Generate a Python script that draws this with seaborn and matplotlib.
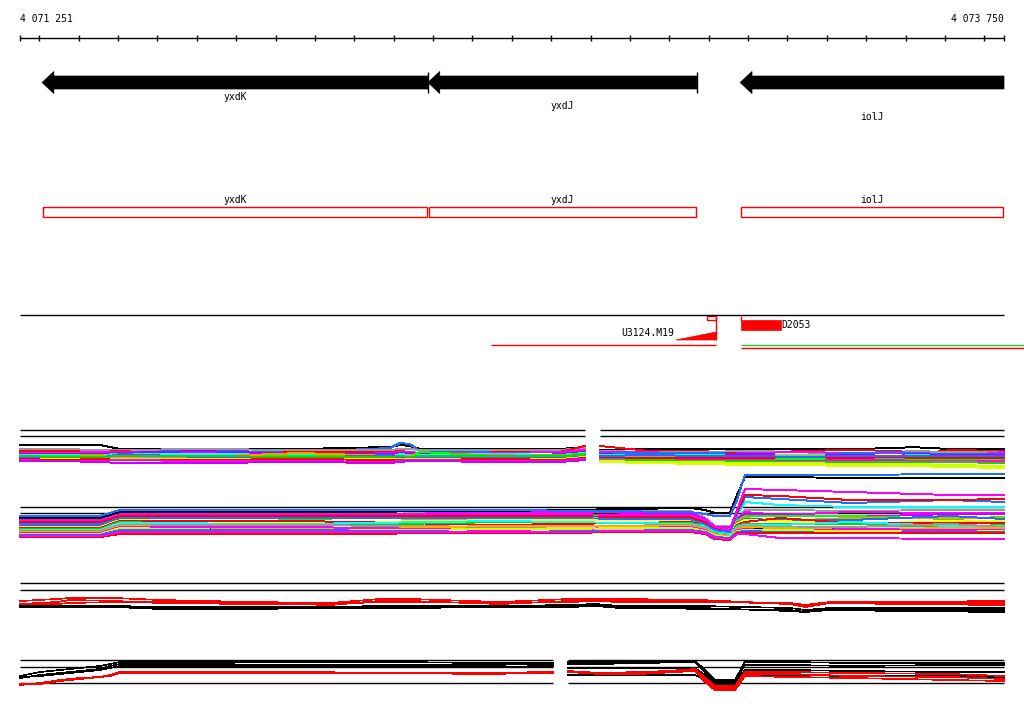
import matplotlib
matplotlib.use('Agg')
import numpy as np
import pandas as pd
import matplotlib.pyplot as plt
import seaborn as sns
from matplotlib.patches import Rectangle, Polygon

# Region shown
region_start = 4071251
region_end = 4073750

# Genes (all on the reverse strand)
gene_names = ['yxdK', 'yxdJ', 'iolJ']
gene_start = [4071307, 4072287, 4073080]
gene_end = [4072287, 4072970, 4073750]

# Features of the third row
probe_name = 'U3124.M19'
probe_ramp_start = 4072917
probe_box_start = 4072996
probe_end = 4073019
probe_line_start = 4072447
seg_name = 'D2053'
seg_start = 4073082
seg_end = 4073184

# Signal track A (upper multicolour track), two segments
a_left_pos = [4071251, 4071353, 4071454, 4071505, 4071708, 4071962, 4072191,
              4072216, 4072241, 4072267, 4072470, 4072622, 4072686]
a_left_colors = ['#000000', '#1E6EFF', '#999999', '#FF0000', '#FF00FF', '#AA00FF',
                 '#00FFFF', '#00FF00', '#FF9900', '#999999', '#1E6EFF', '#CCFF00',
                 '#FF0000', '#FF00FF', '#CC00FF', '#22CC00']
a_left_values = [
    [25, 25, 25, 29, 29, 29, 27, 25, 26, 29, 29, 29, 27],
    [32, 32, 32, 31, 31, 32, 28, 23, 24, 31, 32, 31, 29],
    [29, 29, 30, 30, 29, 30, 30, 29, 29, 30, 30, 30, 28],
    [31, 31, 32, 31, 35, 32, 32, 31, 32, 36, 32, 32, 26],
    [33, 33, 32, 32, 33, 36, 33, 32, 32, 33, 33, 32, 30],
    [34, 34, 34, 33, 31, 34, 34, 33, 33, 34, 38, 34, 32],
    [35, 35, 35, 34, 34, 35, 38, 34, 35, 35, 34, 35, 33],
    [36, 36, 35, 38, 36, 36, 36, 36, 36, 32, 36, 35, 34],
    [37, 37, 36, 37, 37, 33, 36, 37, 36, 37, 37, 39, 35],
    [37, 38, 38, 36, 38, 38, 37, 38, 37, 38, 35, 37, 36],
    [38, 38, 38, 34, 37, 38, 35, 38, 38, 37, 38, 38, 36],
    [39, 39, 39, 39, 39, 39, 39, 39, 39, 39, 39, 39, 37],
    [39, 40, 39, 40, 40, 39, 40, 40, 40, 40, 39, 40, 38],
    [40, 41, 41, 40, 41, 41, 42, 41, 40, 40, 41, 41, 39],
    [41, 41, 42, 43, 43, 42, 43, 42, 41, 41, 42, 42, 40],
    [36, 37, 37, 36, 36, 37, 37, 36, 37, 36, 36, 36, 35],
]
a_right_pos = [4072724, 4072851, 4072978, 4073105, 4073232, 4073359, 4073486,
               4073511, 4073613, 4073750]
a_right_colors = ['#000000', '#FF0000', '#999999', '#FF00FF', '#1E6EFF', '#AA00FF',
                  '#00FFFF', '#FF9900', '#999999', '#00FF00', '#FF00FF', '#22CC00',
                  '#CCFF00', '#DDFF00', '#FF0000', '#1E6EFF']
a_right_values = [
    [30, 29, 29, 29, 29, 29, 28, 27, 29, 29],
    [26, 31, 31, 34, 31, 30, 31, 35, 30, 31],
    [31, 32, 32, 31, 32, 35, 32, 31, 32, 32],
    [32, 32, 35, 33, 32, 33, 33, 33, 37, 32],
    [33, 33, 33, 34, 36, 33, 32, 33, 34, 34],
    [34, 36, 35, 34, 35, 35, 36, 34, 35, 35],
    [35, 35, 35, 36, 35, 36, 36, 35, 36, 38],
    [36, 36, 37, 37, 36, 37, 39, 37, 37, 37],
    [37, 37, 38, 37, 38, 38, 38, 38, 38, 38],
    [38, 39, 39, 39, 39, 39, 39, 39, 39, 40],
    [39, 40, 40, 40, 41, 40, 40, 41, 41, 41],
    [40, 40, 41, 41, 42, 42, 42, 42, 42, 43],
    [41, 42, 42, 43, 43, 44, 44, 44, 45, 46],
    [42, 43, 44, 45, 45, 46, 46, 46, 47, 48],
    [37, 38, 38, 38, 37, 38, 37, 38, 38, 38],
    [36, 35, 36, 36, 37, 36, 36, 36, 36, 36],
]
a_refs = [10, 16]

# Signal track B (lower multicolour track)
b_pos = [4071251, 4071454, 4071505, 4071962, 4072470, 4072953, 4072991, 4073016,
         4073054, 4073072, 4073092, 4073181, 4073359, 4073613, 4073750]
b_colors = ['#999999', '#FF00FF', '#CC00FF', '#00FF00', '#FF9900', '#1E6EFF',
            '#FFFF00', '#FF0000', '#22CC00', '#00FFFF', '#999999', '#FFAA00',
            '#FF00FF', '#CCFF00', '#1E6EFF', '#FF0000', '#FF00FF',
            '#00FFFF', '#1E6EFF', '#FF0000', '#FF00FF', '#000000', '#1E6EFF']
b_values = [
    [49, 49, 41, 41, 42, 41, 48, 56, 56, 50, 40, 40, 41, 40, 40],
    [51, 50, 42, 46, 42, 42, 49, 57, 57, 49, 42, 45, 42, 43, 43],
    [52, 52, 44, 44, 47, 43, 50, 58, 58, 50, 44, 44, 47, 44, 44],
    [54, 53, 45, 49, 46, 45, 51, 59, 59, 51, 46, 46, 46, 49, 47],
    [55, 55, 47, 47, 50, 47, 52, 60, 61, 52, 48, 51, 48, 48, 48],
    [56, 56, 48, 45, 49, 48, 53, 61, 62, 53, 49, 50, 50, 46, 49],
    [57, 57, 50, 53, 50, 50, 54, 62, 63, 54, 50, 51, 54, 51, 51],
    [58, 58, 51, 51, 55, 52, 55, 63, 64, 55, 52, 48, 53, 53, 53],
    [59, 59, 52, 56, 52, 53, 56, 63, 65, 56, 54, 54, 54, 57, 55],
    [60, 60, 53, 54, 51, 54, 57, 64, 65, 57, 55, 55, 52, 56, 56],
    [61, 61, 55, 55, 57, 55, 58, 64, 66, 58, 56, 57, 57, 54, 57],
    [62, 62, 56, 59, 56, 56, 59, 65, 66, 59, 57, 58, 60, 58, 58],
    [63, 63, 57, 57, 60, 57, 60, 66, 67, 60, 59, 61, 59, 60, 60],
    [64, 64, 58, 61, 59, 58, 61, 66, 67, 61, 60, 60, 61, 62, 61],
    [65, 65, 60, 60, 62, 60, 62, 67, 68, 62, 61, 62, 63, 62, 62],
    [67, 67, 64, 64, 63, 62, 64, 69, 70, 63, 63, 63, 63, 63, 63],
    [66, 66, 62, 62, 62, 61, 63, 68, 69, 64, 64, 68, 68, 69, 69],
    [53, 53, 47, 47, 47, 48, 55, 61, 63, 45, 32, 35, 37, 37, 37],
    [54, 54, 48, 48, 48, 49, 54, 60, 62, 44, 27, 29, 33, 30, 32],
    [52, 52, 46, 46, 46, 47, 52, 58, 60, 42, 25, 26, 30, 30, 29],
    [50, 50, 44, 44, 44, 45, 50, 57, 60, 40, 19, 20, 22, 25, 25],
    [48, 48, 42, 42, 41, 38, 40, 43, 43, 25, 7, 7, 8, 8, 8],
    [46, 46, 40, 40, 40, 42, 44, 46, 46, 30, 5, 5, 5, 4, 4],
]
b_refs = [37, 43, 58]

# Signal track C (red / black)
c_pos = [4071251, 4071345, 4071378, 4071492, 4071607, 4071835, 4072038, 4072165,
         4072241, 4072470, 4072648, 4072711, 4072775, 4072978, 4073207, 4073245,
         4073308, 4073486, 4073750]
c_colors = ['#FF0000', '#FF0000', '#FF0000', '#000000', '#000000', '#000000']
c_values = [
    [26, 24, 23, 23, 25, 27, 28, 24, 24, 27, 24, 24, 24, 25, 29, 31, 27, 28, 28],
    [30, 29, 28, 27, 27, 28, 30, 26, 26, 29, 26, 25, 25, 26, 29, 32, 28, 29, 30],
    [29, 27, 25, 26, 28, 29, 29, 27, 27, 28, 27, 26, 27, 27, 28, 30, 27, 27, 26],
    [31, 31, 31, 31, 32, 32, 32, 31, 31, 31, 30, 29, 31, 31, 33, 35, 33, 33, 33],
    [32, 32, 32, 32, 34, 34, 33, 33, 33, 32, 32, 31, 32, 34, 35, 37, 34, 35, 35],
    [31, 31, 31, 32, 33, 33, 33, 32, 32, 32, 31, 31, 33, 33, 36, 37, 35, 36, 37],
]
c_refs = [8, 15]

# Signal track D (red / black), two segments
d_left_pos = [4071251, 4071302, 4071353, 4071403, 4071454, 4071480, 4071505,
              4071708, 4071962, 4072216, 4072419, 4072605]
d_left_colors = ['#000000', '#000000', '#000000', '#FF0000', '#FF0000']
d_left_values = [
    [26, 22, 20, 18, 16, 14, 12, 12, 12, 12, 13, 13],
    [28, 25, 23, 21, 19, 16, 14, 14, 15, 15, 15, 14],
    [27, 26, 24, 22, 20, 18, 16, 16, 16, 16, 17, 16],
    [35, 33, 30, 28, 27, 25, 22, 22, 22, 23, 23, 22],
    [34, 34, 31, 29, 27, 26, 23, 23, 23, 23, 24, 23],
]
d_right_pos = [4072643, 4072724, 4072826, 4072965, 4072991, 4073016, 4073067,
               4073092, 4073207, 4073359, 4073613, 4073750]
d_right_colors = ['#000000', '#000000', '#000000', '#000000', '#FF0000', '#FF0000', '#FF0000']
d_right_values = [
    [12, 12, 12, 11, 20, 30, 30, 12, 12, 13, 13, 13],
    [14, 14, 13, 12, 22, 32, 32, 15, 15, 16, 15, 15],
    [18, 18, 18, 18, 25, 34, 34, 20, 20, 21, 22, 22],
    [25, 25, 25, 25, 30, 35, 35, 25, 25, 26, 26, 27],
    [21, 23, 23, 19, 28, 36, 36, 22, 22, 23, 24, 26],
    [21, 23, 22, 20, 30, 38, 38, 24, 24, 26, 27, 29],
    [22, 24, 24, 21, 32, 40, 40, 26, 27, 28, 30, 31],
]
d_refs = [10, 17, 33]

# ---------------------------------------------------------------
W, H = 1024, 714
sns.set_style('white')
plt.rcParams['font.family'] = ['DejaVu Sans Mono']
fig = plt.figure(figsize=(W / 100, H / 100), dpi=100)

bp_per_px = (region_end - region_start) / 984
X0 = region_start - 20 * bp_per_px
X1 = region_end + 20 * bp_per_px
txt = dict(fontsize=7, color='black')

ax = fig.add_axes([0, 0, 1, 1])
ax.set_xlim(X0, X1)
ax.set_ylim(H, 0)
ax.axis('off')

# ruler
ticks = [region_start] + list(range(4071300, region_end, 100)) + [region_end]
ax.hlines(38, region_start, region_end, color='black', lw=1)
ax.vlines(ticks, 35, 41, color='black', lw=1)
ax.text(region_start, 19, '4 071 251', ha='left', va='center', **txt)
ax.text(region_end, 19, '4 073 750', ha='right', va='center', **txt)

# gene arrows
head = 30
label_rows = [97, 106, 117]
for name, s, e, row in zip(gene_names, gene_start, gene_end, label_rows):
    pts = [(s, 82.5), (s + head, 71.5), (s + head, 76), (e, 76), (e, 89),
           (s + head, 89), (s + head, 93.5)]
    ax.add_patch(Polygon(pts, closed=True, facecolor='black', edgecolor='black', lw=0.5))
    ax.text((s + e) / 2, row, name, ha='center', va='center', **txt)
ax.vlines([gene_end[0], gene_end[1]], 72, 93, color='black', lw=1)

# gene boxes
for name, s, e in zip(gene_names, gene_start, gene_end):
    ax.add_patch(Rectangle((s + 2, 207), e - s - 4, 10, fill=False, edgecolor='#FF0000', lw=1))
    ax.text((s + e) / 2, 200, name, ha='center', va='center', **txt)

# features row
ax.hlines(315, region_start, region_end, color='black', lw=1)
ax.add_patch(Polygon([(probe_ramp_start, 340), (probe_end, 332), (probe_end, 340)],
                     closed=True, facecolor='#FF0000', edgecolor='#FF0000', lw=0.5))
ax.add_patch(Rectangle((probe_box_start, 315.5), probe_end - probe_box_start, 4.5,
                       fill=False, edgecolor='#FF0000', lw=1))
ax.vlines(probe_end, 315.5, 340, color='#FF0000', lw=1)
ax.hlines(344.5, probe_line_start, probe_end, color='#FF0000', lw=1)
ax.text(probe_ramp_start - 5, 333.5, probe_name, ha='right', va='center', **txt)
ax.vlines(seg_start, 315.5, 321, color='#FF0000', lw=1)
ax.add_patch(Rectangle((seg_start, 320), seg_end - seg_start, 9.5,
                       facecolor='#FF0000', edgecolor='#FF0000', lw=0.5))
ax.text(seg_end, 325, seg_name, ha='left', va='center', **txt)
ax.hlines(344.5, seg_start, X1, color='#22CC22', lw=1)
ax.hlines(347.5, seg_start, X1, color='#FF0000', lw=1)


def track_axes(top, bottom):
    t = fig.add_axes([0, 1 - bottom / H, 1, (bottom - top) / H])
    return t


def draw_lines(t, pos, colors, values, lw=0.7):
    rows = []
    for i, vals in enumerate(values):
        for p, v in zip(pos, vals):
            rows.append((i, p, v))
    df = pd.DataFrame(rows, columns=['line', 'pos', 'value'])
    pal = {i: c for i, c in enumerate(colors)}
    sns.lineplot(data=df, x='pos', y='value', hue='line', palette=pal,
                 estimator=None, sort=False, legend=False, linewidth=lw,
                 antialiased=False, ax=t)


def finish(t, top, bottom):
    t.set_xlim(X0, X1)
    t.set_ylim(bottom - top, 0)
    t.axis('off')


# track A
ta = track_axes(420, 475)
ta.hlines(a_refs, a_left_pos[0], a_left_pos[-1], color='black', lw=1)
ta.hlines(a_refs, a_right_pos[0], a_right_pos[-1], color='black', lw=1)
draw_lines(ta, a_left_pos, a_left_colors, a_left_values)
draw_lines(ta, a_right_pos, a_right_colors, a_right_values)
finish(ta, 420, 475)

# track B
tb = track_axes(470, 550)
tb.hlines(b_refs, b_pos[0], b_pos[-1], color='black', lw=1)
draw_lines(tb, b_pos, b_colors, b_values)
finish(tb, 470, 550)

# track C
tc = track_axes(575, 620)
tc.hlines(c_refs, c_pos[0], c_pos[-1], color='black', lw=1)
draw_lines(tc, c_pos, c_colors, c_values, lw=0.5)
finish(tc, 575, 620)

# track D
td = track_axes(650, 700)
td.hlines(d_refs, d_left_pos[0], d_left_pos[-1], color='black', lw=1)
td.hlines(d_refs, d_right_pos[0], d_right_pos[-1], color='black', lw=1)
draw_lines(td, d_left_pos, d_left_colors, d_left_values, lw=0.5)
draw_lines(td, d_right_pos, d_right_colors, d_right_values, lw=0.5)
finish(td, 650, 700)

fig.savefig('out.png', dpi=100, facecolor='white')
